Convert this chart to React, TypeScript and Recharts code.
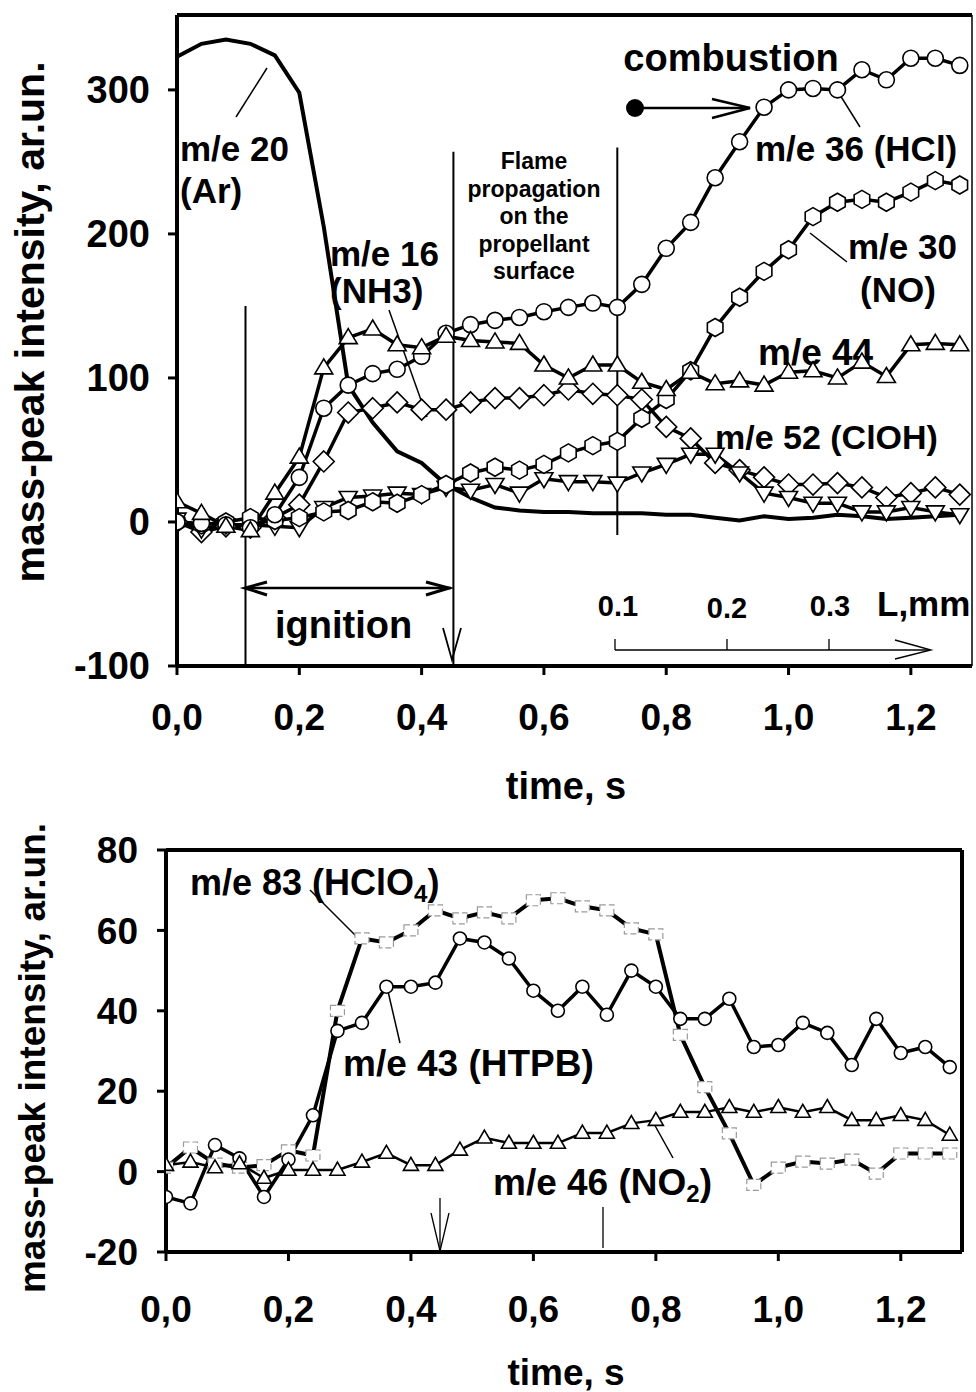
import React from 'react';
import { LineChart, Line, XAxis, YAxis, ReferenceLine } from 'recharts';

const FONT = '"Liberation Sans", Arial, Helvetica, sans-serif';

// time points (s)
const time = [0.0, 0.04, 0.08, 0.12, 0.16, 0.2, 0.24, 0.28, 0.32, 0.36, 0.4, 0.44, 0.48, 0.52, 0.56, 0.6, 0.64, 0.68, 0.72, 0.76, 0.8, 0.84, 0.88, 0.92, 0.96, 1.0, 1.04, 1.08, 1.12, 1.16, 1.2, 1.24, 1.28];

// top panel series
const me20Ar = [323, 332, 335, 332, 324, 298, 205, 95, 69, 49, 41, 26, 17, 10, 8, 7, 7, 6, 6, 6, 5, 5, 3, 1, 4, 2, 3, 5, 4, 2, 3, 4, 5];
const me36HCl = [0, -1, -2, -4, 5, 31, 79, 95, 103, 106, 115, 131, 137, 140, 142, 146, 149, 152, 149, 165, 190, 208, 239, 264, 288, 300, 301, 300, 314, 307, 322, 322, 317];
const me30NO = [0, -2, 0, 3, 1, 3, 7, 8, 14, 13, 19, 26, 34, 38, 36, 40, 48, 53, 56, 72, 85, 105, 135, 156, 174, 189, 212, 222, 224, 222, 229, 237, 234];
const me16NH3 = [0, -7, -3, -4, 3, 12, 42, 76, 79, 83, 78, 78, 83, 86, 86, 88, 92, 89, 88, 85, 66, 58, 41, 36, 31, 26, 26, 27, 24, 17, 20, 24, 19];
const me52ClOH = [2, -5, -2, -2, -3, -4, 10, 17, 18, 20, 19, 24, 22, 26, 20, 30, 28, 28, 27, 34, 40, 47, 47, 34, 20, 17, 13, 13, 7, 7, 10, 7, 5];
const me44 = [14, 6, -3, -6, 20, 45, 107, 128, 134, 123, 121, 129, 126, 125, 124, 109, 100, 109, 109, 97, 92, 104, 96, 98, 95, 104, 105, 100, 111, 101, 123, 124, 123];

// bottom panel series
const me83HClO4 = [1, 6, 2, 1, 1.6, 5.3, 4, 40, 58, 57, 60, 65, 63, 64.5, 63, 67.5, 68, 66, 65, 60.5, 59, 34, 21, 9.5, -3.3, 1, 2.5, 2, 3, -0.5, 4.5, 4.5, 4.5];
const me43HTPB = [-6.3, -7.9, 6.6, 3.3, -6.3, 3, 14, 35, 37, 46, 46, 47, 58, 57, 53, 45, 40, 46, 39, 50, 46, 38, 38, 43, 31, 31.5, 37, 34.5, 26.5, 38, 29.5, 31, 26];
const me46NO2 = [1.6, 2.4, 1, 2, -1.6, 0.4, 0.4, 0.4, 2.4, 4.6, 1.6, 1.6, 5.4, 8.4, 7.1, 7.1, 7.1, 9.6, 9.6, 12, 12.8, 14.8, 14.8, 16, 14.8, 16, 14.8, 16, 12.8, 12.8, 14, 12.8, 9.1];

// axes
const xTicks = [0, 0.2, 0.4, 0.6, 0.8, 1.0, 1.2];
const topYTicks = [-100, 0, 100, 200, 300];
const botYTicks = [-20, 0, 20, 40, 60, 80];
const xDomain: [number, number] = [0, 1.3];
const topYDomain: [number, number] = [-100, 352];
const botYDomain: [number, number] = [-20, 80];

const topData = time.map((t, i) => ({
  t,
  ar: me20Ar[i],
  hcl: me36HCl[i],
  no: me30NO[i],
  nh3: me16NH3[i],
  cloh: me52ClOH[i],
  m44: me44[i],
}));

const botData = time.map((t, i) => ({
  t,
  hclo4: me83HClO4[i],
  htpb: me43HTPB[i],
  no2: me46NO2[i],
}));

const fmtX = (v: number) => v.toFixed(1).replace('.', ',');

const mk = (name: string, draw: (cx: number, cy: number) => React.ReactElement) => (p: any) => {
  const { cx, cy, index } = p;
  if (cx == null || cy == null || isNaN(cx) || isNaN(cy)) return <g key={`${name}-${index}`} />;
  return <g key={`${name}-${index}`}>{draw(cx, cy)}</g>;
};

const SW = 1.6;
const circleDot = (r: number, name: string) =>
  mk(name, (cx, cy) => <circle cx={cx} cy={cy} r={r} fill="#fff" stroke="#000" strokeWidth={SW} />);
const hexDot = (r: number) =>
  mk('hex', (cx, cy) => {
    const pts = [-90, -30, 30, 90, 150, 210]
      .map((a) => `${cx + r * Math.cos((a * Math.PI) / 180)},${cy + r * Math.sin((a * Math.PI) / 180)}`)
      .join(' ');
    return <polygon points={pts} fill="#fff" stroke="#000" strokeWidth={SW} />;
  });
const triUp = (w: number, h: number, name: string) =>
  mk(name, (cx, cy) => (
    <polygon points={`${cx},${cy - h * 0.6} ${cx + w / 2},${cy + h * 0.4} ${cx - w / 2},${cy + h * 0.4}`} fill="#fff" stroke="#000" strokeWidth={SW} />
  ));
const triDown = (w: number, h: number) =>
  mk('tdn', (cx, cy) => (
    <polygon points={`${cx},${cy + h * 0.6} ${cx + w / 2},${cy - h * 0.4} ${cx - w / 2},${cy - h * 0.4}`} fill="#fff" stroke="#000" strokeWidth={SW} />
  ));
const diamondDot = (r: number) =>
  mk('dia', (cx, cy) => (
    <polygon points={`${cx},${cy - r} ${cx + r},${cy} ${cx},${cy + r} ${cx - r},${cy}`} fill="#fff" stroke="#000" strokeWidth={SW} />
  ));
const squareDot = mk('sq', (cx, cy) => (
  <rect x={cx - 7} y={cy - 5.5} width={14} height={11} fill="#fff" stroke="#9a9a9a" strokeWidth={1.2} strokeDasharray="6 3" />
));

const T = ({ x, y, size, anchor = 'start', children }: any) => (
  <text x={x} y={y} fontSize={size} fontFamily={FONT} fontWeight="bold" fill="#000" textAnchor={anchor} dominantBaseline="central">
    {children}
  </text>
);
const L = ({ x1, y1, x2, y2, w = 1.5 }: any) => <line x1={x1} y1={y1} x2={x2} y2={y2} stroke="#000" strokeWidth={w} />;

const TopAnnotations = () => (
  <g>
    <T x={731} y={58} size={38} anchor="middle">combustion</T>
    <circle cx={635} cy={108} r={9} fill="#000" />
    <L x1={635} y1={108} x2={750} y2={108} w={2.5} />
    <polyline points="712,99 750,108 712,118" fill="none" stroke="#000" strokeWidth={2.5} />

    <T x={755} y={148} size={35}>m/e 36 (HCl)</T>
    <L x1={840} y1={95} x2={860} y2={127} />
    <T x={848} y={246} size={35}>m/e 30</T>
    <T x={860} y={289} size={35}>(NO)</T>
    <L x1={810} y1={233} x2={847} y2={262} />
    <T x={758} y={352} size={37}>m/e 44</T>
    <T x={715} y={437} size={34}>m/e 52 (ClOH)</T>

    <T x={180} y={148} size={35}>m/e 20</T>
    <T x={180} y={190} size={35}>(Ar)</T>
    <L x1={236} y1={117} x2={267} y2={68} />
    <T x={330} y={253} size={35}>m/e 16</T>
    <T x={330} y={290} size={35}>(NH3)</T>
    <L x1={389} y1={310} x2={427} y2={417} />

    <T x={534} y={161} size={23} anchor="middle">Flame</T>
    <T x={534} y={189} size={23} anchor="middle">propagation</T>
    <T x={534} y={216} size={23} anchor="middle">on the</T>
    <T x={534} y={244} size={23} anchor="middle">propellant</T>
    <T x={534} y={271} size={23} anchor="middle">surface</T>

    <polyline points="267,582 245,588 267,595" fill="none" stroke="#000" strokeWidth={3} />
    <polyline points="426,582 449,588 426,595" fill="none" stroke="#000" strokeWidth={3} />
    <polyline points="443,628 452,660 461,628" fill="none" stroke="#000" strokeWidth={1.8} />
    <T x={275} y={625} size={38}>ignition</T>

    <T x={618} y={606} size={29} anchor="middle">0.1</T>
    <T x={727} y={608} size={29} anchor="middle">0.2</T>
    <T x={830} y={606} size={29} anchor="middle">0.3</T>
    <T x={877} y={603} size={35}>L,mm</T>
    <L x1={615} y1={650} x2={930} y2={650} w={1.3} />
    <L x1={615} y1={639} x2={615} y2={650} w={1.3} />
    <L x1={727} y1={639} x2={727} y2={650} w={1.3} />
    <L x1={829} y1={639} x2={829} y2={650} w={1.3} />
    <polyline points="895,640 931,650 895,659" fill="none" stroke="#000" strokeWidth={1.3} />

    <T x={566} y={786} size={38} anchor="middle">time, s</T>
    <text x={30} y={322} fontSize={41} fontFamily={FONT} fontWeight="bold" fill="#000" textAnchor="middle" dominantBaseline="central" transform="rotate(-90 30 322)">
      mass-peak intensity, ar.un.
    </text>
  </g>
);

// bottom chart svg starts at page y = 820
const BotAnnotations = () => (
  <g>
    <text x={190} y={62} fontSize={36} fontFamily={FONT} fontWeight="bold" fill="#000" dominantBaseline="central">
      <tspan>m/e 83 (HClO</tspan>
      <tspan fontSize={24} dy={11}>4</tspan>
      <tspan dy={-11}>)</tspan>
    </text>
    <L x1={310} y1={70} x2={363} y2={123} />
    <T x={343} y={243} size={37}>m/e 43 (HTPB)</T>
    <L x1={387} y1={167} x2={400} y2={223} />
    <text x={493} y={362} fontSize={37} fontFamily={FONT} fontWeight="bold" fill="#000" dominantBaseline="central">
      <tspan>m/e 46 (NO</tspan>
      <tspan fontSize={24} dy={11}>2</tspan>
      <tspan dy={-11}>)</tspan>
    </text>
    <L x1={653} y1={302} x2={673} y2={338} />
    <L x1={440} y1={378} x2={440} y2={431} w={1.3} />
    <polyline points="431,393 440,431 449,393" fill="none" stroke="#000" strokeWidth={1.3} />
    <L x1={603} y1={387} x2={603} y2={428} w={1.3} />
    <T x={566} y={552} size={37} anchor="middle">time, s</T>
    <text x={32} y={238} fontSize={37} fontFamily={FONT} fontWeight="bold" fill="#000" textAnchor="middle" dominantBaseline="central" transform="rotate(-90 32 238)">
      mass-peak intensity, ar.un.
    </text>
  </g>
);

const tickStyle = (size: number) => ({ fontSize: size, fontWeight: 'bold', fill: '#000', fontFamily: FONT });

export default function App() {
  return (
    <div style={{ position: 'absolute', left: 0, top: 0, width: 976, height: 1392, background: '#fff' }}>
      <div style={{ position: 'absolute', left: 0, top: 0 }}>
        <LineChart width={976} height={820} data={topData} margin={{ top: 15, right: 4, bottom: 0, left: 0 }}>
          <XAxis
            dataKey="t"
            type="number"
            domain={xDomain}
            ticks={xTicks}
            interval={0}
            allowDataOverflow
            tickFormatter={fmtX}
            height={154}
            tick={tickStyle(37)}
            tickSize={9}
            tickMargin={29}
            axisLine={{ stroke: '#000', strokeWidth: 4 }}
            tickLine={{ stroke: '#000', strokeWidth: 3 }}
          />
          <YAxis
            type="number"
            domain={topYDomain}
            ticks={topYTicks}
            interval={0}
            allowDataOverflow
            width={177}
            tick={tickStyle(38)}
            tickSize={9}
            tickMargin={18}
            axisLine={{ stroke: '#000', strokeWidth: 4 }}
            tickLine={{ stroke: '#000', strokeWidth: 3 }}
          />
          <ReferenceLine y={352} stroke="#000" strokeWidth={4} />
          <ReferenceLine x={1.3} stroke="#000" strokeWidth={1.5} />
          <ReferenceLine segment={[{ x: 0.112, y: 150 }, { x: 0.112, y: -100 }]} stroke="#000" strokeWidth={2} />
          <ReferenceLine segment={[{ x: 0.452, y: 257 }, { x: 0.452, y: -100 }]} stroke="#000" strokeWidth={2} />
          <ReferenceLine segment={[{ x: 0.72, y: 260 }, { x: 0.72, y: -9 }]} stroke="#000" strokeWidth={2} />
          <ReferenceLine segment={[{ x: 0.112, y: -45.8 }, { x: 0.448, y: -45.8 }]} stroke="#000" strokeWidth={2.5} />
          <Line type="linear" dataKey="ar" stroke="#000" strokeWidth={4} dot={false} activeDot={false} isAnimationActive={false} />
          <Line type="linear" dataKey="nh3" stroke="#000" strokeWidth={3.5} dot={diamondDot(10.5)} activeDot={false} isAnimationActive={false} />
          <Line type="linear" dataKey="cloh" stroke="#000" strokeWidth={3.5} dot={triDown(18, 15)} activeDot={false} isAnimationActive={false} />
          <Line type="linear" dataKey="no" stroke="#000" strokeWidth={3.5} dot={hexDot(9)} activeDot={false} isAnimationActive={false} />
          <Line type="linear" dataKey="hcl" stroke="#000" strokeWidth={3.5} dot={circleDot(8, 'hcl')} activeDot={false} isAnimationActive={false} />
          <Line type="linear" dataKey="m44" stroke="#000" strokeWidth={3.5} dot={triUp(18, 15, 'm44')} activeDot={false} isAnimationActive={false} />
          <TopAnnotations />
        </LineChart>
      </div>
      <div style={{ position: 'absolute', left: 0, top: 820 }}>
        <LineChart width={976} height={572} data={botData} margin={{ top: 30, right: 14, bottom: 0, left: 0 }}>
          <XAxis
            dataKey="t"
            type="number"
            domain={xDomain}
            ticks={xTicks}
            interval={0}
            allowDataOverflow
            tickFormatter={fmtX}
            height={140}
            tick={tickStyle(37)}
            tickSize={9}
            tickMargin={35}
            axisLine={{ stroke: '#000', strokeWidth: 4 }}
            tickLine={{ stroke: '#000', strokeWidth: 3 }}
          />
          <YAxis
            type="number"
            domain={botYDomain}
            ticks={botYTicks}
            interval={0}
            allowDataOverflow
            width={166}
            tick={tickStyle(37)}
            tickSize={9}
            tickMargin={19}
            axisLine={{ stroke: '#000', strokeWidth: 4 }}
            tickLine={{ stroke: '#000', strokeWidth: 3 }}
          />
          <ReferenceLine y={80} stroke="#000" strokeWidth={4} />
          <ReferenceLine x={1.3} stroke="#000" strokeWidth={4} />
          <Line type="linear" dataKey="hclo4" stroke="#000" strokeWidth={4} dot={squareDot} activeDot={false} isAnimationActive={false} />
          <Line type="linear" dataKey="htpb" stroke="#000" strokeWidth={3.5} dot={circleDot(6.5, 'htpb')} activeDot={false} isAnimationActive={false} />
          <Line type="linear" dataKey="no2" stroke="#000" strokeWidth={2.5} dot={triUp(15, 13, 'no2')} activeDot={false} isAnimationActive={false} />
          <BotAnnotations />
        </LineChart>
      </div>
    </div>
  );
}
